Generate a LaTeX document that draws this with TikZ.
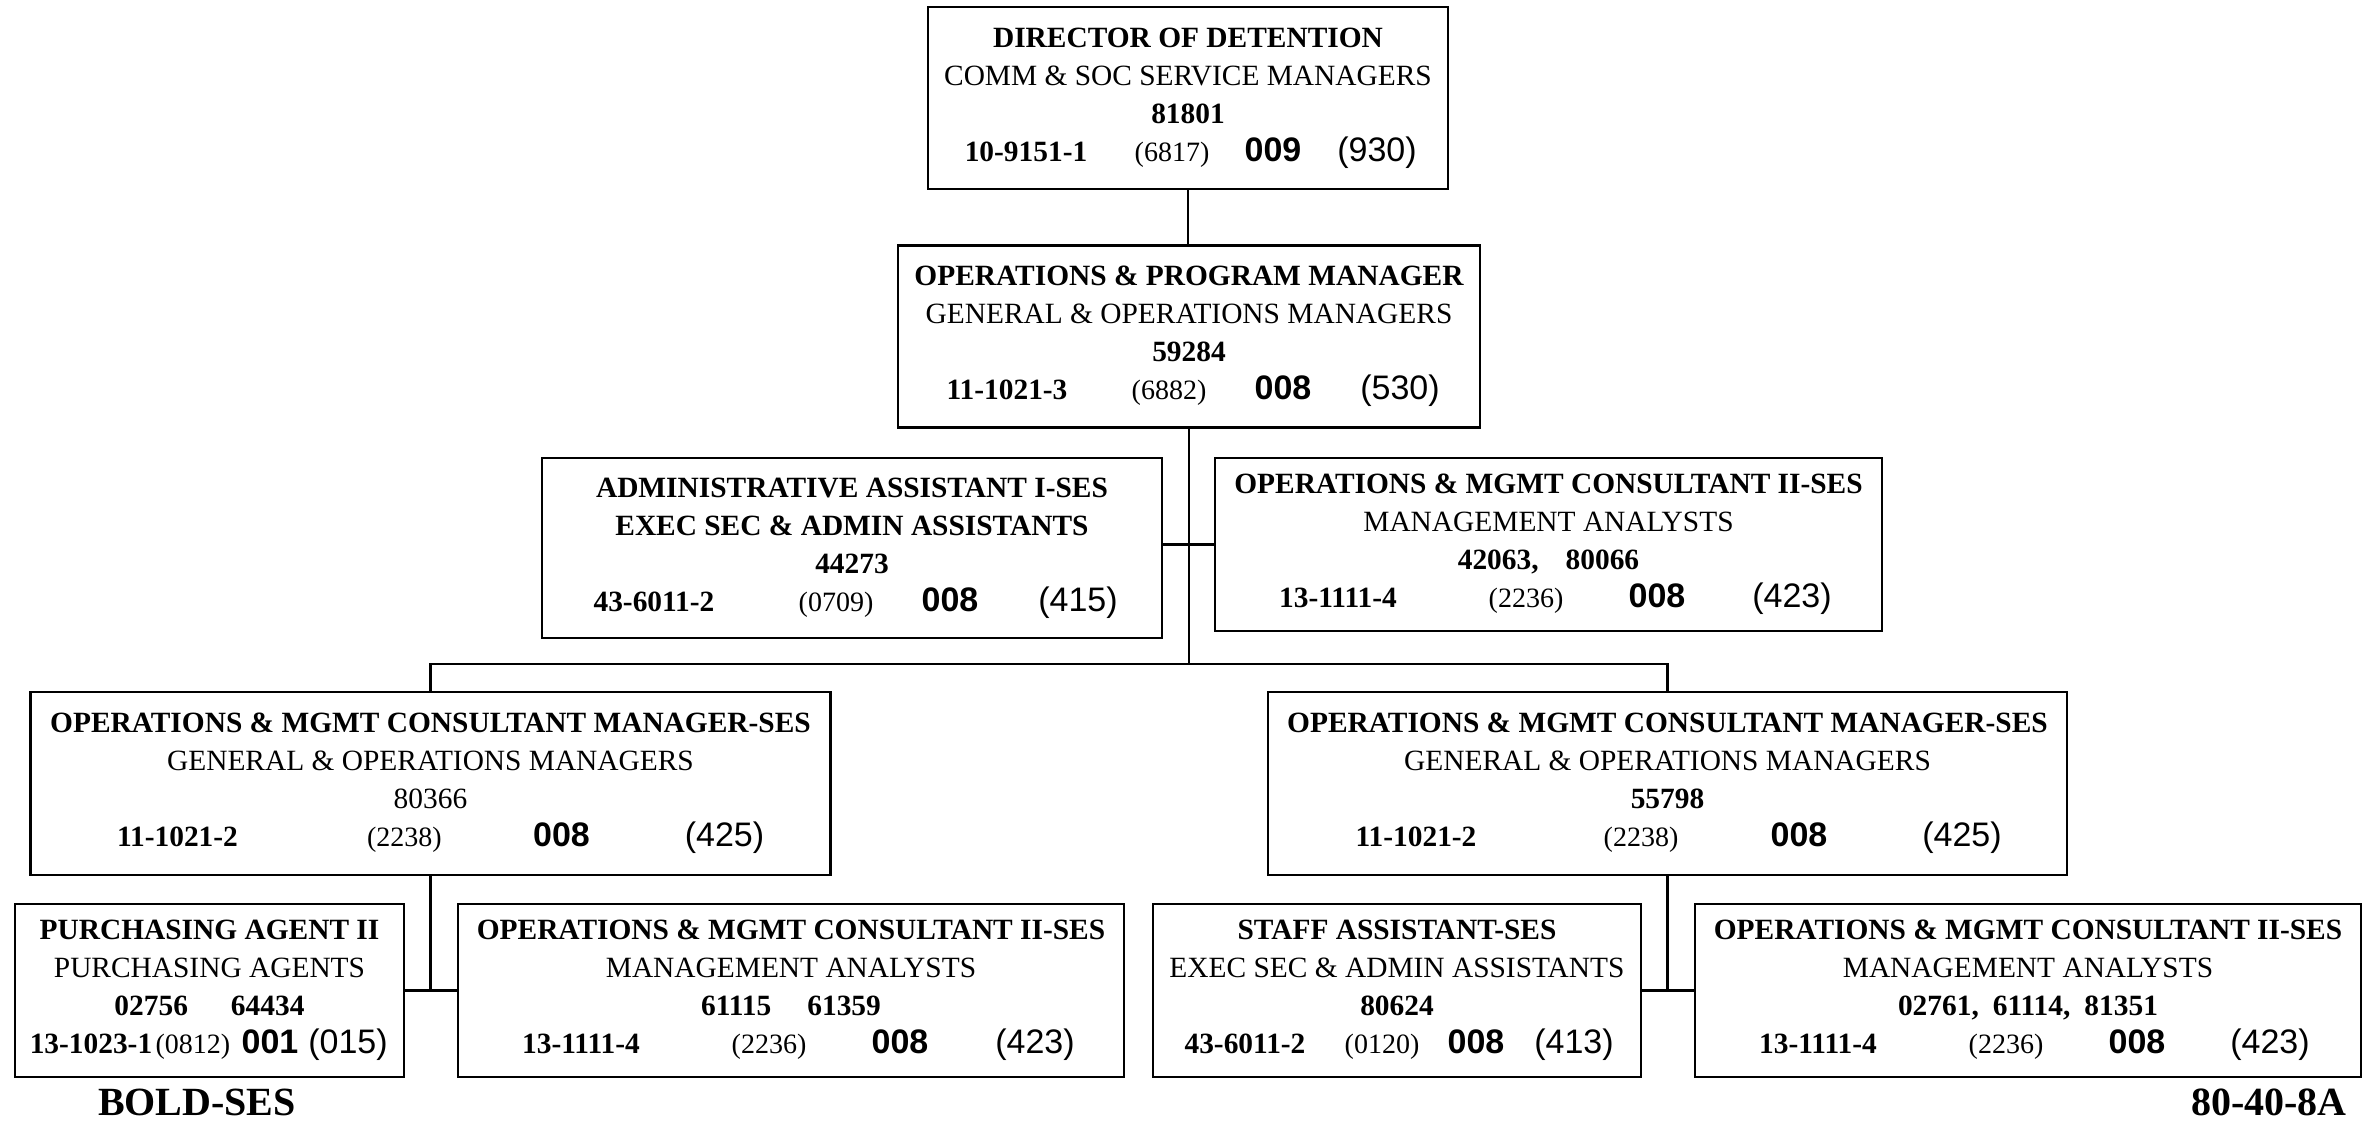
\documentclass[tikz,border=0pt]{standalone}
\usepackage{fontspec}
\setmainfont{Liberation Serif}
\newfontfamily\arialfont{Liberation Sans}
\usetikzlibrary{calc}
\newdimen\px \px=0.5pt
% pay line: box width, four centres from the left edge, then code, range, grade, class
\newcommand{\payline}[9]{\hbox to #1\px{%
    \rlap{\kern#2\px\makebox[0pt]{\bfseries #6}}%
    \rlap{\kern#3\px\makebox[0pt]{\fontsize{14}{19}\selectfont #7}}%
    \rlap{\kern#4\px\makebox[0pt]{\arialfont\bfseries\fontsize{17}{19}\selectfont #8}}%
    \rlap{\kern#5\px\makebox[0pt]{\arialfont\fontsize{17}{19}\selectfont #9}}\hfil}}

\begin{document}
\begin{tikzpicture}[x=0.5pt, y=-0.5pt,
      post/.style={draw, line width=1.3pt, align=center, inner xsep=0pt, inner ysep=0pt,
                   font=\fontsize{14.7}{19}\selectfont},
      size/.style 2 args={minimum width=#1*0.5pt, minimum height=#2*0.5pt},
      link/.style={line width=1.1pt},
      tag/.style={inner sep=0pt, font=\bfseries\fontsize{20}{24}\selectfont}]
    \useasboundingbox (0,0) rectangle (2363,1120);
    \node[post, size={520}{182}] (dir) at (1188,98)
      {{\bfseries DIRECTOR OF DETENTION}\\ COMM \& SOC SERVICE MANAGERS\\ {\bfseries 81801}\\
       \payline{520}{98}{244}{345}{449}{10-9151-1}{(6817)}{009}{(930)}};
    \node[post, size={582}{182}] (prog) at (1189,336.5)
      {{\bfseries OPERATIONS \& PROGRAM MANAGER}\\ GENERAL \& OPERATIONS MANAGERS\\ {\bfseries 59284}\\
       \payline{582}{109}{271}{385}{502}{11-1021-3}{(6882)}{008}{(530)}};
    \node[post, size={620}{180}] (admin) at (852,548)
      {{\bfseries ADMINISTRATIVE ASSISTANT I-SES}\\ {\bfseries EXEC SEC \& ADMIN ASSISTANTS}\\ {\bfseries 44273}\\
       \payline{620}{112}{294}{408}{536}{43-6011-2}{(0709)}{008}{(415)}};
    \node[post, size={667}{173}] (anlt) at (1548.5,544.5)
      {{\bfseries OPERATIONS \& MGMT CONSULTANT II-SES}\\ MANAGEMENT ANALYSTS\\ {\bfseries 42063,\hspace{13.5pt}80066}\\
       \payline{667}{123}{311}{442}{577}{13-1111-4}{(2236)}{008}{(423)}};
    \node[post, size={800}{183}] (lmgr) at (430.5,783.5)
      {{\bfseries OPERATIONS \& MGMT CONSULTANT MANAGER-SES}\\ GENERAL \& OPERATIONS MANAGERS\\ 80366\\
       \payline{800}{147}{374}{531}{694}{11-1021-2}{(2238)}{008}{(425)}};
    \node[post, size={799}{183}] (rmgr) at (1667.5,783.5)
      {{\bfseries OPERATIONS \& MGMT CONSULTANT MANAGER-SES}\\ GENERAL \& OPERATIONS MANAGERS\\ {\bfseries 55798}\\
       \payline{799}{148}{373}{531}{694}{11-1021-2}{(2238)}{008}{(425)}};
    \node[post, size={389}{173}] (purch) at (209.5,990.5)
      {{\bfseries PURCHASING AGENT II}\\ PURCHASING AGENTS\\ {\bfseries 02756\hspace{21.5pt}64434}\\
       \payline{389}{76}{178}{255}{333}{13-1023-1}{(0812)}{001}{(015)}};
    \node[post, size={666}{173}] (anll) at (791,990.5)
      {{\bfseries OPERATIONS \& MGMT CONSULTANT II-SES}\\ MANAGEMENT ANALYSTS\\ {\bfseries 61115\hspace{18pt}61359}\\
       \payline{666}{123}{311}{442}{577}{13-1111-4}{(2236)}{008}{(423)}};
    \node[post, size={488}{173}] (staff) at (1397,990.5)
      {{\bfseries STAFF ASSISTANT-SES}\\ EXEC SEC \& ADMIN ASSISTANTS\\ {\bfseries 80624}\\
       \payline{488}{92}{229}{323}{421}{43-6011-2}{(0120)}{008}{(413)}};
    \node[post, size={666}{173}] (anlr) at (2028,990.5)
      {{\bfseries OPERATIONS \& MGMT CONSULTANT II-SES}\\ MANAGEMENT ANALYSTS\\ {\bfseries 02761,\hspace{7pt}61114,\hspace{7pt}81351}\\
       \payline{666}{123}{311}{442}{575}{13-1111-4}{(2236)}{008}{(423)}};
    \node[tag] (bold) at (197,1102) {BOLD-SES};
    \node[tag] (sheet) at (2269,1102) {80-40-8A};
    \draw[link] (dir.south) -- (dir.south |- prog.north);
    \draw[link] (lmgr.north) -- ++(0,-27) coordinate (bus) -| (rmgr.north);
    \draw[link] (prog.south) -- (prog.south |- bus);
    \draw[link] (admin.east |- anlt.west) -- (anlt.west);
    \draw[link] (lmgr.south) -- (lmgr.south |- purch.east);
    \draw[link] (purch.east) -- (anll.west);
    \draw[link] (rmgr.south) -- (rmgr.south |- staff.east);
    \draw[link] (staff.east) -- (anlr.west);
  \end{tikzpicture}
\end{document}
